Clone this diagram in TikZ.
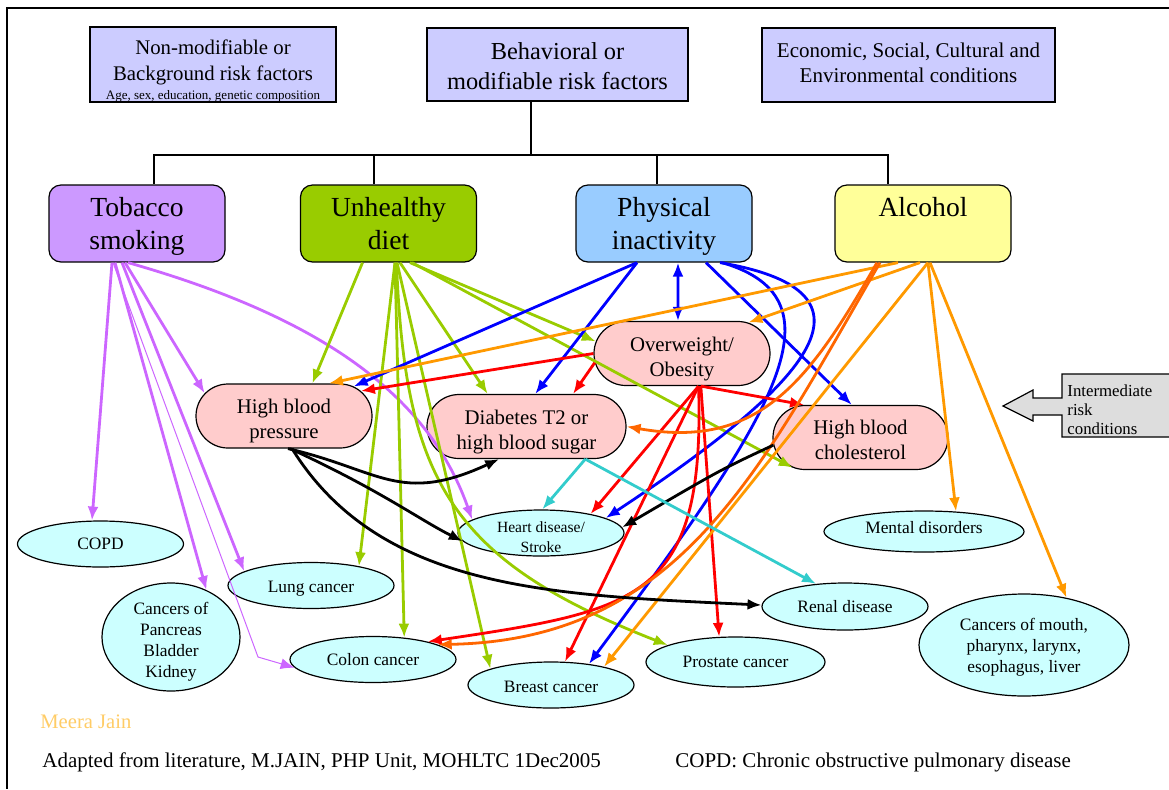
\documentclass[tikz,border=0pt]{standalone}
\usepackage{fontspec}
\setmainfont{Liberation Serif}
\usepackage{tikz}
\usetikzlibrary{arrows.meta,shapes.geometric,shapes.misc}
\definecolor{factorblue}{HTML}{CCCCFF}
\definecolor{smokefill}{HTML}{CC99FF}
\definecolor{dietfill}{HTML}{99CC00}
\definecolor{physfill}{HTML}{99CCFF}
\definecolor{alcofill}{HTML}{FFFF99}
\definecolor{condfill}{HTML}{FFCCCC}
\definecolor{outfill}{HTML}{CCFFFF}
\definecolor{calloutgray}{HTML}{DDDDDD}
\definecolor{smokepurple}{HTML}{CC66FF}
\definecolor{dietgreen}{HTML}{99CC00}
\definecolor{physblue}{HTML}{0000FF}
\definecolor{obesered}{HTML}{FF0000}
\definecolor{alcorange}{HTML}{FF9900}
\definecolor{alcdark}{HTML}{FF6600}
\definecolor{sugarcyan}{HTML}{33CCCC}
\definecolor{signorange}{HTML}{FFCC66}
\begin{document}
\begin{tikzpicture}[x=0.5pt,y=-0.5pt,
    topbox/.style={rectangle,draw,line width=0.6pt,fill=factorblue,inner sep=0pt,align=center},
    riskbox/.style={rectangle,draw,rounded corners=6pt,line width=0.6pt,inner sep=0pt,
        minimum width=88pt,minimum height=38.5pt,align=center,font=\fontsize{13.8}{16.5}\selectfont},
    condition/.style={rounded rectangle,draw,line width=0.6pt,fill=condfill,inner sep=0pt,
        minimum height=32pt,align=center,font=\fontsize{10.4}{12.5}\selectfont},
    outcome/.style={ellipse,draw,line width=0.6pt,fill=outfill,inner sep=0pt,
        minimum width=83pt,minimum height=23pt,align=center,font=\fontsize{8.7}{10.5}\selectfont},
    link/.style={line width=1.4pt,-{Latex[length=7pt,width=5.5pt]}}]
      \useasboundingbox (0,0) rectangle (1169,789);
      \draw[line width=0.75pt] (1169,8) -- (7,8) -- (7,789);
      \node[topbox,minimum width=123pt,minimum height=36.5pt,font=\fontsize{10.4}{13}\selectfont] (nonmod) at (213,64.5)
        {\rule{0pt}{13.6pt}Non-modifiable or\\Background risk factors\\[-3.5pt]{\fontsize{6.5}{7.5}\selectfont Age, sex, education, genetic composition}};
      \node[topbox,minimum width=130.5pt,minimum height=36.5pt,font=\fontsize{12.2}{15}\selectfont] (behav) at (557.5,64.5)
        {\rule{0pt}{10.3pt}Behavioral or\\modifiable risk factors};
      \node[topbox,minimum width=146.5pt,minimum height=37pt,font=\fontsize{10.5}{12.5}\selectfont] (econ) at (908.5,65)
        {Economic, Social, Cultural and\\Environmental conditions\rule[-2.5pt]{0pt}{2.5pt}};
      \node[riskbox,fill=smokefill] (tobacco) at (137,223.5) {Tobacco\\\smash{smoking}};
      \node[riskbox,fill=dietfill] (diet) at (388.5,223.5) {Unhealthy\\diet};
      \node[riskbox,fill=physfill] (phys) at (664,223.5) {Physical\\\smash{inactivity}};
      \node[riskbox,fill=alcofill] (alcohol) at (923,223.5) {Alcohol\\\mbox{}};
      \coordinate (bus) at (531,155);
      \draw[line width=0.6pt] ([xshift=-13.25pt]behav.south) -- (bus);
      \draw[line width=0.6pt] ([xshift=8.5pt]tobacco.north) |- (bus) -| ([xshift=-17.5pt]alcohol.north);
      \draw[line width=0.6pt] ([xshift=-7.25pt]diet.north) -- ([xshift=-7.25pt]diet.north |- bus);
      \draw[line width=0.6pt] ([xshift=-3.5pt]phys.north) -- ([xshift=-3.5pt]phys.north |- bus);
      \node[condition,minimum width=88pt] (hbp) at (284,416) {\rule{0pt}{10pt}High blood\\\smash{pressure}};
      \node[condition,minimum width=88pt] (obese) at (682,353.5) {\rule{0pt}{10pt}Overweight/\\\smash{Obesity}};
      \node[condition,minimum width=99.5pt] (diab) at (526.5,426.5) {\rule{0pt}{10.5pt}Diabetes T2 or\\\smash{high blood sugar}};
      \node[condition,minimum width=87.5pt] (chol) at (860.5,437.5) {\rule{0pt}{10pt}High blood\\cholesterol};
      \node[outcome] (copd) at (100.5,544) {COPD};
      \node[outcome] (lung) at (311,585.5) {\rule{0pt}{8.8pt}Lung cancer};
      \node[outcome,minimum width=69pt,minimum height=54pt,inner ysep=-3pt] (panc) at (171,637)
        {\rule{0pt}{8.9pt}Cancers of\\Pancreas\\Bladder\\\smash{Kidney}};
      \node[outcome] (colon) at (373,659.5) {Colon cancer};
      \node[outcome,inner ysep=-3pt,font=\fontsize{7.8}{10}\selectfont] (heart) at (541,533)
        {\rule{0pt}{9.3pt}Heart disease/\\Stroke};
      \node[outcome] (breast) at (551,685) {\rule{0pt}{7.8pt}Breast cancer};
      \node[outcome,minimum width=89.5pt,minimum height=25pt] (prost) at (735.5,662) {Prostate cancer};
      \node[outcome,minimum height=23.5pt] (renal) at (845,606.5) {Renal disease};
      \node[outcome,minimum width=100pt,minimum height=20.5pt] (mental) at (924,531.5)
        {Mental disorders\rule[-4pt]{0pt}{4pt}};
      \node[outcome,minimum width=105pt,minimum height=51pt] (mouth) at (1024,645)
        {Cancers of mouth,\\pharynx, larynx,\\\smash{esophagus, liver}};
      \draw[fill=calloutgray,line width=0.6pt] (1062,374) -- (1175,374) -- (1175,437) -- (1062,437) -- (1062,415)
        -- (1033,415) -- (1033,421) -- (1003,406) -- (1033,390) -- (1033,398) -- (1062,398) -- cycle;
      \node[anchor=north west,inner sep=0pt,align=left,font=\fontsize{8.4}{9.5}\selectfont] (interlabel) at (1067,384.5)
        {Intermediate\\risk\\conditions};
      \path[link,smokepurple]
      ([xshift=-12.5pt]tobacco.south) edge (copd.110)
      ([xshift=-11pt]tobacco.south) edge (panc.53)
      ([xshift=-7.5pt]tobacco.south) edge (lung.168)
      ([xshift=-6pt]tobacco.south) edge (hbp.164);
      \draw[link,smokepurple] ([xshift=-4.5pt]tobacco.south) .. controls (330,320) and (430,400) .. (heart.169);
      \coordinate (kink) at (258,657);
      \draw[link,smokepurple,line width=0.5pt] ([xshift=-12pt]tobacco.south) -- (kink) -- (colon.186);
      \path[link,dietgreen]
      ([xshift=-13pt]diet.south) edge (hbp.49)
      ([xshift=3.25pt]diet.south) edge (lung.22)
      ([xshift=3.25pt]diet.south) edge (colon.35)
      ([xshift=4.25pt]diet.south) edge (breast.165)
      ([xshift=5.75pt]diet.south) edge (diab.140)
      ([xshift=10.75pt]diet.south) edge (obese.172)
      ([xshift=11.75pt]diet.south) edge (chol.204);
      \draw[link,dietgreen] ([xshift=4pt]diet.south) .. controls (405,480) and (450,560) .. (prost.166);
      \path[link,physblue]
      ([xshift=-13.5pt]phys.south) edge (hbp.23)
      ([xshift=-13.5pt]phys.south) edge (diab.75)
      ([xshift=21pt]phys.south) edge (chol.105);
      \draw[link,physblue,{Latex[length=7pt,width=5.5pt]}-{Latex[length=7pt,width=5.5pt]}] ([xshift=7pt]phys.south) -- (obese.97);
      \draw[link,physblue] ([xshift=28pt]phys.south) .. controls (880,290) and (830,370) .. (heart.13);
      \draw[link,physblue] ([xshift=29pt]phys.south) .. controls (850,300) and (770,420) .. (breast.29);
      \path[link,obesered]
      (obese.180) edge (hbp.18)
      (obese.186) edge (diab.35)
      (obese.-60) edge (chol.150)
      (obese.-63) edge (heart.21)
      (obese.-63) edge (breast.59)
      (obese.-60) edge (prost.123);
      \draw[link,obesered] (obese.-63) .. controls (705,600) and (640,610) .. (colon.18);
      \path[link,alcorange]
      ([xshift=-12.5pt]alcohol.south) edge (hbp.36)
      ([xshift=-1.5pt]alcohol.south) edge (obese.25)
      ([xshift=2.5pt]alcohol.south) edge (mental.32)
      ([xshift=3.5pt]alcohol.south) edge (mouth.48)
      ([xshift=2.5pt]alcohol.south) edge (breast.19);
      \draw[link,alcdark] ([xshift=-23pt]alcohol.south) .. controls (810,380) and (760,450) .. (diab.east);
      \draw[link,alcdark] ([xshift=-21.5pt]alcohol.south) .. controls (760,470) and (680,640) .. (colon.13);
      \draw[link] ([xshift=2pt]hbp.south) .. controls (380,470) and (400,505) .. (diab.230);
      \draw[link] ([xshift=3pt]hbp.south) .. controls (380,490) and (420,520) .. (heart.186);
      \draw[link] ([xshift=4pt]hbp.south) .. controls (380,590) and (550,595) .. (renal.179);
      \draw[link] (chol.185) .. controls (720,470) .. (heart.4);
      \path[link,sugarcyan]
      (diab.-29) edge (heart.87)
      (diab.-29) edge (renal.142);
      \node[anchor=west,inner sep=0pt,text=signorange,font=\fontsize{10.3}{12}\selectfont] (sign) at (40,722) {Meera Jain};
      \node[anchor=west,inner sep=0pt,font=\fontsize{10.5}{12}\selectfont] (source) at (42,762)
        {Adapted from literature, M.JAIN, PHP Unit, MOHLTC 1Dec2005};
      \node[anchor=west,inner sep=0pt,font=\fontsize{10.5}{12}\selectfont] (abbrev) at (675,762)
        {COPD: Chronic obstructive pulmonary disease};
    \end{tikzpicture}
\end{document}
